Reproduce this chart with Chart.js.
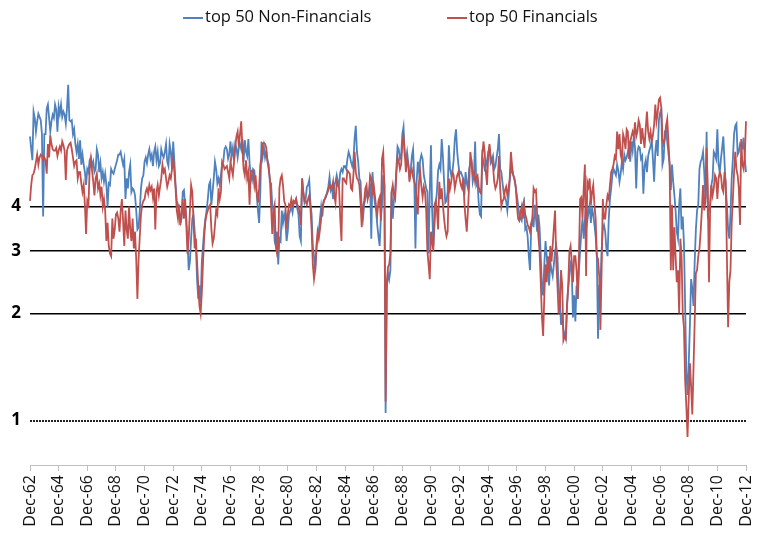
<!DOCTYPE html>
<html>
<head>
<meta charset="utf-8">
<script src="https://cdn.jsdelivr.net/npm/chart.js@4.4.0/dist/chart.umd.min.js"></script>
<style>
  body { margin: 0; background: #fff; }
  #wrap { position: relative; width: 759px; height: 540px; }
  .key { position: absolute; top: 4px; font: 16.5px "Open Sans", sans-serif; color: #111; white-space: nowrap; }
  .key i { display: inline-block; width: 20px; height: 2px; vertical-align: middle; margin-right: 2px; }
</style>
</head>
<body>
<div id="wrap">
  <canvas id="chart" width="759" height="540"></canvas>
  <div id="key1" class="key" style="left:183px"></div>
  <div id="key2" class="key" style="left:447px"></div>
</div>
<script>
// monthly values, Dec-62 .. Dec-12
const nonFinancials = [
  6.3,5.8,5.4,7.4,7.1,6.5,6.95,7.3,7.15,7.0,
  6.4,3.75,6.4,6.4,7.55,7.75,7.1,6.5,6.95,7.25,
  7.1,7.75,7.5,6.5,7.65,7.3,7.75,7.15,7.4,7.25,
  6.85,7.55,8.8,7.0,6.95,7.0,6.4,6.6,6.0,5.7,
  6.0,5.45,6.15,5.25,5.6,5.25,5.0,4.6,5.1,5.0,
  5.4,5.5,5.2,5.35,5.0,5.1,5.8,5.6,5.0,5.3,
  4.8,5.0,4.7,4.95,4.6,4.0,4.65,4.6,5.1,5.0,
  4.95,5.1,5.25,5.4,5.6,5.6,5.7,5.45,5.25,5.45,
  4.2,4.8,4.5,5.0,5.25,4.4,4.5,4.45,4.3,3.9,
  3.45,3.5,3.9,4.5,4.8,4.9,5.35,5.5,5.3,5.6,
  5.8,5.45,5.6,5.2,5.7,5.9,5.4,5.7,5.2,5.3,
  5.8,5.6,5.5,5.7,6.0,5.35,5.2,6.0,5.7,5.1,
  6.1,5.35,4.6,4.15,4.05,3.8,3.6,3.7,4.4,4.45,
  4.05,3.7,3.2,2.65,2.8,3.25,3.7,3.8,3.4,3.1,
  2.5,2.2,2.4,2.15,2.8,3.1,3.45,3.7,3.9,4.2,
  4.6,4.7,4.05,4.4,4.8,5.35,5.1,4.65,4.8,4.6,
  4.9,5.3,5.35,5.8,5.9,5.8,5.45,5.6,6.1,5.55,
  5.85,5.4,6.0,5.85,5.5,5.85,6.0,5.8,6.2,5.35,
  6.15,5.7,5.55,6.2,5.3,4.9,4.75,5.1,5.05,4.6,
  4.35,3.9,3.6,4.4,6.1,5.55,5.9,5.5,5.7,5.4,
  5.25,4.7,4.65,4.05,3.9,3.2,3.1,3.4,2.75,3.25,
  3.2,3.9,3.6,3.8,3.65,3.2,3.4,3.8,3.9,4.0,
  3.85,4.1,4.1,4.2,3.95,3.8,3.3,3.2,4.8,4.4,
  4.1,4.2,4.55,4.6,4.75,4.1,3.8,3.1,2.9,2.65,
  3.0,3.3,3.4,3.7,4.0,3.75,4.15,4.2,4.25,4.4,
  4.55,4.85,4.45,4.55,4.2,4.6,4.7,4.9,4.7,4.6,
  5.0,5.1,5.0,5.2,5.2,5.1,5.45,5.7,5.55,5.35,
  5.2,5.4,6.2,6.75,5.7,5.35,4.8,4.7,3.9,3.7,
  4.05,4.2,4.4,4.25,4.3,4.65,3.25,5.0,4.4,4.1,
  3.9,3.55,3.3,3.1,3.7,4.05,4.9,4.6,1.05,2.35,
  2.6,2.5,2.65,4.4,3.7,4.2,4.4,5.1,5.9,5.8,
  5.45,5.55,6.4,6.7,5.55,5.4,5.7,5.3,4.85,5.05,
  5.55,5.8,4.8,3.05,4.7,5.35,5.0,5.4,5.6,5.45,
  4.9,4.7,4.5,4.4,2.95,4.4,5.95,3.9,3.1,3.55,
  4.05,4.4,5.05,5.25,5.1,6.2,5.55,4.7,4.1,4.15,
  4.4,5.95,5.1,4.9,5.0,5.4,6.2,6.6,5.7,5.25,
  4.95,5.0,4.9,4.8,4.3,5.0,4.65,4.5,5.1,5.3,
  5.35,4.7,4.9,6.1,4.6,4.7,4.1,3.8,3.75,5.55,
  5.35,5.1,5.2,5.4,5.7,5.85,5.3,5.4,5.55,5.1,
  5.2,5.5,5.8,6.4,5.1,5.0,4.65,4.35,4.25,4.15,
  3.9,4.25,4.7,5.2,5.0,4.9,4.75,4.55,4.3,4.05,
  3.8,3.7,3.65,4.05,4.15,3.45,3.5,3.3,2.9,2.65,
  3.5,3.7,3.5,4.05,3.7,3.4,3.8,3.5,2.9,2.4,
  2.25,2.75,3.2,2.9,2.65,2.4,2.8,2.65,2.55,2.75,
  3.0,3.1,2.9,2.35,2.2,1.86,2.0,1.8,1.75,1.7,
  2.1,2.35,2.55,2.75,2.65,1.95,2.25,1.9,2.4,2.2,
  2.65,3.0,3.4,3.7,3.25,3.65,4.05,3.65,3.85,4.05,
  3.6,3.95,3.8,3.55,3.3,2.9,1.7,2.4,2.4,3.0,
  3.45,3.55,3.4,3.05,2.9,3.7,4.2,4.5,4.9,5.1,
  5.0,4.9,5.25,5.05,4.7,4.95,5.35,5.1,5.6,5.4,
  5.5,5.7,5.9,5.35,6.1,5.75,6.3,5.85,4.5,5.7,
  5.9,5.85,5.45,5.55,4.35,5.2,5.4,5.0,5.55,5.75,
  5.9,6.15,5.45,4.7,5.7,6.15,5.55,7.0,7.35,7.5,
  5.25,5.45,6.5,6.6,6.1,5.65,5.25,4.45,5.25,4.7,
  4.3,3.9,3.4,3.25,4.05,4.5,3.45,3.75,3.15,2.1,
  1.37,1.18,1.44,1.86,2.5,2.35,2.1,2.8,3.45,3.9,
  4.05,5.1,5.35,5.45,5.7,5.0,4.2,6.5,3.8,3.9,
  4.05,4.6,4.8,5.7,5.6,5.45,6.6,5.25,5.0,5.45,
  5.85,6.3,5.35,4.5,4.05,3.45,3.25,3.8,4.8,5.45,
  6.4,6.75,6.85,5.6,5.7,6.0,5.9,5.85,6.25,5.45,
  5.0
];
const financials = [
  4.15,4.6,4.9,4.95,5.1,5.35,5.6,5.25,5.5,5.6,
  5.55,5.4,5.5,5.4,4.95,6.0,5.5,6.35,6.0,5.8,
  5.75,5.75,5.85,5.55,5.75,5.9,5.75,6.1,5.95,5.75,
  4.75,5.75,5.9,6.0,6.05,5.8,5.5,5.2,5.35,5.4,
  4.8,5.0,5.0,4.65,4.4,4.6,4.05,3.35,4.15,4.05,
  5.1,5.45,5.05,4.7,4.3,4.8,4.95,4.5,4.65,4.3,
  4.55,4.0,4.2,3.9,3.2,3.6,3.1,2.95,2.9,3.7,
  3.25,3.45,3.8,3.85,3.7,3.4,3.9,4.2,3.65,3.1,
  3.9,3.45,3.25,4.0,3.45,3.2,3.7,3.05,3.4,2.85,
  2.2,2.85,3.3,3.8,4.05,4.15,4.2,4.4,4.5,4.35,
  4.6,4.45,4.55,4.25,4.5,3.45,4.4,4.6,4.3,4.55,
  4.8,5.25,5.0,5.1,4.8,4.55,4.7,4.9,4.8,5.1,
  5.45,5.0,4.5,3.9,3.7,4.05,3.55,3.8,4.2,3.7,
  4.2,3.55,2.95,3.25,3.9,4.6,4.4,3.65,3.05,3.25,
  2.8,2.4,2.1,2.0,2.3,2.8,3.3,3.65,3.8,3.9,
  4.0,4.05,3.45,3.15,3.25,3.55,3.9,3.8,4.5,4.2,
  4.4,5.35,5.25,5.1,5.15,5.2,5.0,4.8,5.35,5.1,
  4.9,5.35,5.9,6.3,6.5,5.9,6.4,6.95,5.85,5.1,
  4.9,5.4,4.8,5.0,4.05,5.0,5.05,5.0,4.6,4.9,
  4.4,4.1,4.5,5.25,5.5,6.0,6.05,6.0,5.85,5.35,
  5.1,4.8,4.05,3.35,3.9,4.05,3.1,2.95,3.05,4.5,
  4.8,4.9,4.6,4.15,4.05,3.45,3.8,4.05,4.0,4.2,
  4.05,4.15,4.1,4.2,4.05,4.0,3.85,3.55,4.8,4.4,
  4.15,4.15,4.05,4.2,4.3,3.95,3.45,2.75,2.5,2.65,
  3.1,3.4,3.25,3.45,3.7,4.0,4.1,4.2,4.3,4.35,
  4.45,4.6,4.5,4.5,4.7,4.3,4.1,4.7,4.6,4.5,
  3.7,3.2,4.8,4.8,4.7,4.65,5.05,5.0,4.95,4.5,
  4.45,4.9,5.7,5.0,4.8,4.75,4.6,4.1,3.5,4.0,
  4.15,4.5,4.6,4.2,4.35,4.9,4.8,4.4,4.6,4.3,
  4.0,3.8,4.15,4.25,3.65,5.45,5.7,4.6,1.13,2.45,
  2.7,2.75,2.95,4.4,4.6,4.3,4.2,4.95,5.5,5.35,
  5.1,5.25,6.0,6.3,5.7,5.0,5.45,5.25,4.7,5.0,
  5.1,4.85,4.7,4.6,4.2,3.8,4.7,5.0,4.55,4.25,
  4.55,4.4,3.9,3.0,2.75,2.5,3.4,3.2,3.0,4.05,
  4.15,3.9,3.45,4.7,4.2,4.5,4.05,3.7,3.45,3.3,
  3.4,4.8,4.5,4.7,5.0,4.9,4.5,4.7,4.9,5.0,
  4.8,4.6,4.5,4.8,4.1,3.7,3.4,3.9,4.6,5.7,
  5.35,4.95,5.0,4.7,4.85,4.9,4.55,4.4,4.35,5.55,
  6.1,5.7,5.0,4.6,5.55,6.0,5.55,5.4,5.2,4.7,
  4.5,4.6,4.8,5.55,4.5,4.0,4.15,4.2,4.45,4.55,
  4.3,4.5,4.8,5.7,5.2,4.9,4.8,4.55,4.05,3.7,
  3.65,3.85,4.0,3.7,4.05,3.8,3.7,3.55,3.5,3.4,
  3.6,3.7,4.5,4.4,4.45,3.8,3.3,3.0,2.45,1.95,
  1.73,2.25,2.75,2.45,2.9,2.6,3.1,2.8,3.1,3.5,
  3.9,2.8,2.4,2.0,2.1,2.65,2.4,1.68,1.72,1.7,
  2.1,2.4,3.0,3.1,2.8,2.45,2.9,2.9,2.65,2.2,
  2.9,4.2,4.25,3.7,4.5,5.25,2.55,4.7,4.55,4.8,
  4.05,4.4,4.6,4.05,3.7,2.9,2.85,2.55,1.8,2.65,
  4.2,3.7,3.7,4.05,4.3,4.2,4.6,5.0,5.1,5.25,
  5.55,5.45,6.5,5.8,6.4,5.6,5.4,6.4,6.2,5.8,
  6.6,6.5,5.45,6.1,6.3,6.5,6.3,6.9,6.3,6.5,
  7.0,6.8,6.0,6.65,6.2,5.85,6.65,7.4,6.5,6.2,
  6.5,6.1,6.35,6.8,7.75,6.95,7.35,8.0,8.1,7.6,
  6.2,6.0,6.2,6.75,7.05,6.1,5.25,2.65,4.05,2.65,
  3.5,2.9,2.45,2.65,2.0,3.25,2.9,2.0,1.83,1.3,
  1.1,0.9,1.15,1.45,1.25,1.04,1.4,1.9,2.6,2.65,
  2.9,3.05,3.4,3.9,4.6,3.9,4.15,5.85,4.4,2.45,
  4.05,4.6,4.3,4.5,4.9,4.8,4.2,4.8,5.0,4.9,
  4.5,4.4,5.0,4.7,2.9,1.83,2.45,2.65,3.6,4.2,
  5.0,5.7,5.1,4.9,4.5,3.55,6.2,5.25,5.1,5.55,
  6.95
];
const seriesNames = ['top 50 Non-Financials', 'top 50 Financials'];
const seriesColors = ['#4f81bd', '#c0504d'];
const monthNames = ['Jan', 'Feb', 'Mar', 'Apr', 'May', 'Jun', 'Jul', 'Aug', 'Sep', 'Oct', 'Nov', 'Dec'];
const yTicks = [1, 2, 3, 4];

// Dec-62, Jan-63, ... one label per month
const labels = [];
for (let i = 0; i < nonFinancials.length; i++) {
  const k = 11 + i;
  const yr = (1962 + Math.floor(k / 12)) % 100;
  labels.push(monthNames[k % 12] + '-' + String(yr).padStart(2, '0'));
}

// legend as plain text over the canvas
[ 'key1', 'key2' ].forEach(function (id, i) {
  document.getElementById(id).innerHTML =
    '<i style="background:' + seriesColors[i] + '"></i>' + seriesNames[i];
});

new Chart(document.getElementById('chart'), {
  type: 'line',
  data: {
    labels: labels,
    datasets: [{
      label: seriesNames[0],
      data: nonFinancials,
      borderColor: seriesColors[0],
      borderWidth: 1.8,
      pointRadius: 0,
      order: 2
    }, {
      label: seriesNames[1],
      data: financials,
      borderColor: seriesColors[1],
      borderWidth: 1.8,
      pointRadius: 0,
      order: 1
    }]
  },
  options: {
    responsive: false,
    animation: false,
    layout: { padding: { top: 37, right: 13, left: 0, bottom: 0 } },
    plugins: {
      legend: { display: false },
      tooltip: { enabled: false }
    },
    scales: {
      x: {
        type: 'category',
        afterBuildTicks: function (s) { s.ticks = s.ticks.filter(t => t.value % 24 === 0); },
        afterFit: function (s) { s.height = 75; s.paddingLeft = 0; s.paddingRight = 0; },
        grid: { drawOnChartArea: false, drawTicks: true, tickLength: 6, color: '#bfbfbf' },
        border: { color: '#bfbfbf', width: 1 },
        ticks: {
          autoSkip: false,
          minRotation: 90,
          maxRotation: 90,
          padding: 4,
          color: '#111',
          font: { family: 'Open Sans', size: 16 }
        }
      },
      y: {
        type: 'logarithmic',
        min: 0.75,
        max: 12,
        afterBuildTicks: function (s) { s.ticks = yTicks.map(v => ({ value: v })); },
        afterFit: function (s) { s.width = 30; },
        grid: { color: ctx => (ctx.tick && ctx.tick.value === 1 ? '#222' : '#000'), lineWidth: ctx => (ctx.tick && ctx.tick.value === 1 ? 2 : 1.5), drawTicks: false },
        border: { display: false, dash: ctx => (ctx.tick && ctx.tick.value === 1 ? [2, 1] : []) },
        ticks: {
          padding: 9,
          color: '#000',
          font: { family: 'Open Sans', size: 17, weight: 'bold' },
          callback: v => String(v)
        }
      }
    }
  }
});
</script>
</body>
</html>
